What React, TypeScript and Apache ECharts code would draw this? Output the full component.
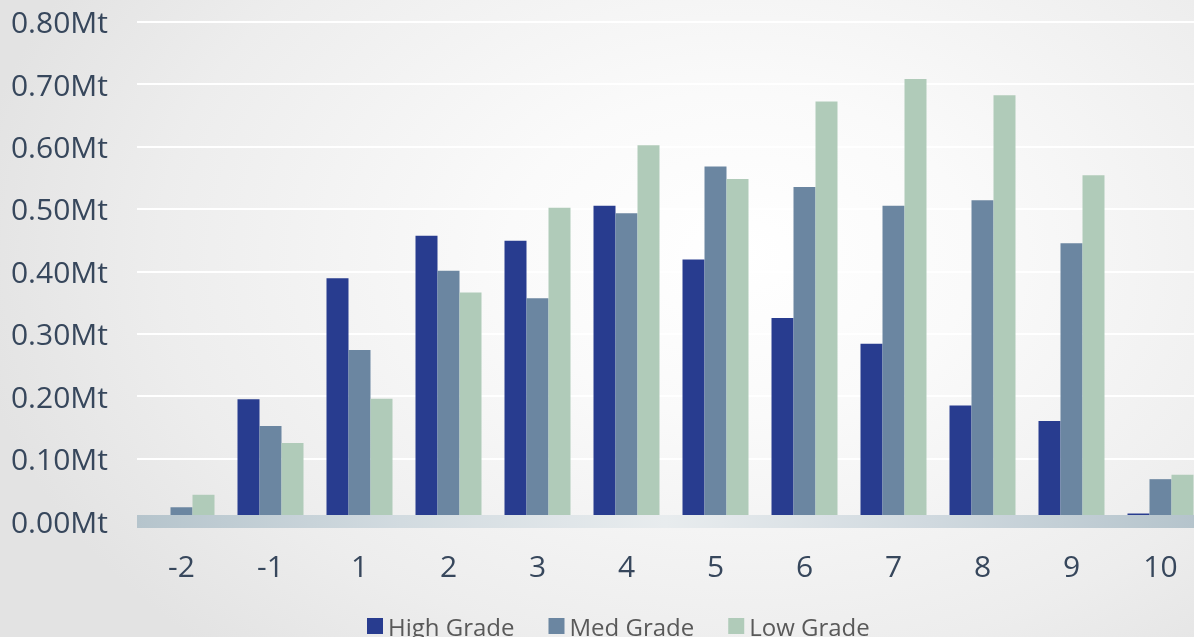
import React, { useEffect, useRef } from "react";
import * as echarts from "echarts";

const categories = ["-2", "-1", "1", "2", "3", "4", "5", "6", "7", "8", "9", "10"];
const highGrade = [0, 0.195, 0.389, 0.457, 0.449, 0.505, 0.419, 0.325, 0.284, 0.185, 0.16, 0.012];
const medGrade = [0.022, 0.152, 0.274, 0.401, 0.357, 0.493, 0.568, 0.535, 0.505, 0.514, 0.445, 0.067];
const lowGrade = [0.042, 0.125, 0.196, 0.366, 0.502, 0.602, 0.548, 0.672, 0.708, 0.682, 0.554, 0.074];
const seriesNames = ["High Grade", "Med Grade", "Low Grade"];
const seriesColors = ["#283C8F", "#6B86A1", "#B0CBB9"];

export default function App() {
  const ref = useRef<HTMLDivElement>(null);
  useEffect(() => {
    if (!ref.current) return;
    const chart = echarts.init(ref.current, null, { renderer: "svg" });
    const font = "'Open Sans', sans-serif";
    const data = [highGrade, medGrade, lowGrade];
    chart.setOption({
      animation: false,
      backgroundColor: "transparent",
      textStyle: { fontFamily: font },
      grid: { left: 137, right: 0, top: 21.6, bottom: 116, containLabel: false },
      legend: {
        left: 367,
        top: 614,
        padding: 0,
        itemWidth: 16,
        itemHeight: 16,
        itemGap: 34,
        icon: "rect",
        textStyle: { fontSize: 24, color: "#595959", fontFamily: font },
        data: seriesNames,
      },
      xAxis: {
        type: "category",
        data: categories,
        z: 5,
        axisTick: { show: false },
        axisLine: {
          show: true,
          lineStyle: {
            width: 13,
            cap: "butt",
            color: new echarts.graphic.LinearGradient(
              137, 0, 1194, 0,
              [
                { offset: 0, color: "#B5C4CC" },
                { offset: 0.25, color: "#D2DBE0" },
                { offset: 0.5, color: "#E8ECEE" },
                { offset: 0.75, color: "#D0D9DF" },
                { offset: 1, color: "#B5C4CC" },
              ],
              true
            ),
          },
        },
        axisLabel: { fontSize: 30, color: "#37475C", margin: 29, fontFamily: font },
      },
      yAxis: {
        type: "value",
        min: 0,
        max: 0.8,
        interval: 0.1,
        axisLine: { show: false },
        axisTick: { show: false },
        splitLine: { show: true, lineStyle: { color: "#FFFFFF", width: 2 } },
        axisLabel: {
          fontSize: 30,
          color: "#37475C",
          margin: 29,
          fontFamily: font,
          formatter: (v: number) => v.toFixed(2) + "Mt",
        },
      },
      series: seriesNames.map((name, i) => ({
        name,
        type: "bar",
        data: data[i],
        barWidth: 22,
        barGap: "0%",
        itemStyle: { color: seriesColors[i] },
      })),
    });
    return () => chart.dispose();
  }, []);
  return (
    <div
      style={{
        position: "fixed",
        left: 0,
        top: 0,
        width: 1194,
        height: 637,
        overflow: "hidden",
        background:
          "radial-gradient(ellipse 65% 85% at 62% 40%, #ffffff 0%, #fafafa 30%, #ededed 75%, #e3e3e3 100%)",
      }}
    >
      <div ref={ref} style={{ width: 1205, height: 637 }} />
    </div>
  );
}
